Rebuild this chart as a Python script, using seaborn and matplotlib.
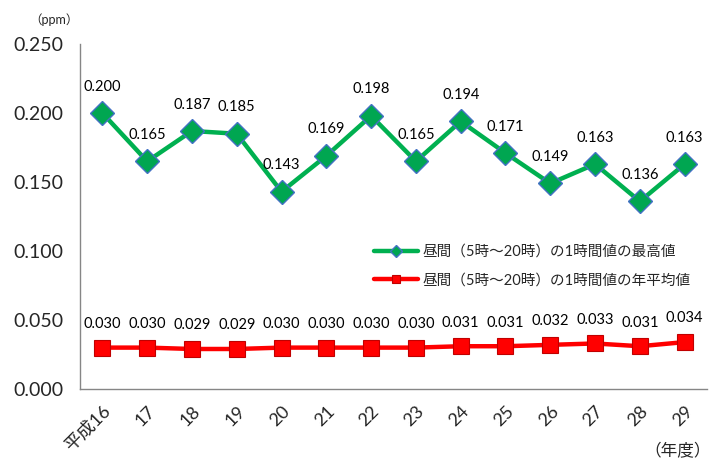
import matplotlib
matplotlib.use('Agg')
import matplotlib.pyplot as plt
import pandas as pd
import seaborn as sns

years = ['平成16', '17', '18', '19', '20', '21', '22', '23', '24', '25', '26', '27', '28', '29']
max_vals = [0.200, 0.165, 0.187, 0.185, 0.143, 0.169, 0.198, 0.165, 0.194, 0.171, 0.149, 0.163, 0.136, 0.163]
mean_vals = [0.030, 0.030, 0.029, 0.029, 0.030, 0.030, 0.030, 0.030, 0.031, 0.031, 0.032, 0.033, 0.031, 0.034]
label_max = '昼間（5時～20時）の1時間値の最高値'
label_mean = '昼間（5時～20時）の1時間値の年平均値'

sns.set_style('white')
plt.rcParams['font.family'] = ['Lato', 'Noto Sans CJK JP', 'DejaVu Sans']

df = pd.DataFrame({'pos': range(len(years)), 'max': max_vals, 'mean': mean_vals})

fig = plt.figure(figsize=(7.17, 4.59), dpi=100)
ax = fig.add_axes([0.1116, 0.1525, 0.8745, 0.7515])

sns.lineplot(data=df, x='pos', y='max', ax=ax, color='#00B050', linewidth=3.2,
             marker='D', markersize=12, markerfacecolor='#00A651', markeredgecolor='#4472C4',
             markeredgewidth=1.0, label=label_max)
sns.lineplot(data=df, x='pos', y='mean', ax=ax, color='#FF0000', linewidth=3.2,
             marker='s', markersize=12, markerfacecolor='#FF0000', markeredgecolor='#C00000',
             markeredgewidth=0.8, label=label_mean)

for i in range(len(years)):
    ax.annotate(f'{max_vals[i]:.3f}', (i, max_vals[i]), xytext=(0, 14), textcoords='offset points',
                ha='center', va='bottom', fontsize=10.5, color='black')
    ax.annotate(f'{mean_vals[i]:.3f}', (i, mean_vals[i]), xytext=(0, 12), textcoords='offset points',
                ha='center', va='bottom', fontsize=10.5, color='black')

ax.set_xlim(-0.5, len(years) - 0.5)
ax.set_ylim(0, 0.25)
yt = [0, 0.05, 0.10, 0.15, 0.20, 0.25]
ax.set_yticks(yt)
ax.set_yticklabels([f'{v:.3f}' for v in yt], fontsize=14)
ax.set_xticks([i + 0.5 for i in range(len(years))], minor=False)
ax.set_xticklabels([])
ax.set_xticks(range(len(years)), minor=True)
ax.set_xticklabels(years, minor=True, rotation=45, ha='right', va='top',
                   rotation_mode='anchor', fontsize=13)
ax.tick_params(axis='x', which='minor', length=0, pad=10)
ax.tick_params(axis='x', which='major', length=5, color='#868686', direction='out')
ax.tick_params(axis='y', length=6, color='#868686', direction='out', pad=6)
ax.set_xlabel('')
ax.set_ylabel('')

for s in ['top', 'right']:
    ax.spines[s].set_visible(False)
for s in ['left', 'bottom']:
    ax.spines[s].set_color('#868686')
    ax.spines[s].set_linewidth(1.0)

ax.legend(loc='upper left', bbox_to_anchor=(0.46, 0.435), frameon=False, fontsize=10.5,
          handlelength=3.0, labelspacing=1.0, handletextpad=0.3, markerscale=0.5,
          borderaxespad=0)

fig.text(0.075, 0.958, '（ppm）', fontsize=9, ha='center', va='center')
fig.text(0.945, 0.018, '（年度）', fontsize=12, ha='center', va='center')

fig.savefig('out.png', dpi=100)
